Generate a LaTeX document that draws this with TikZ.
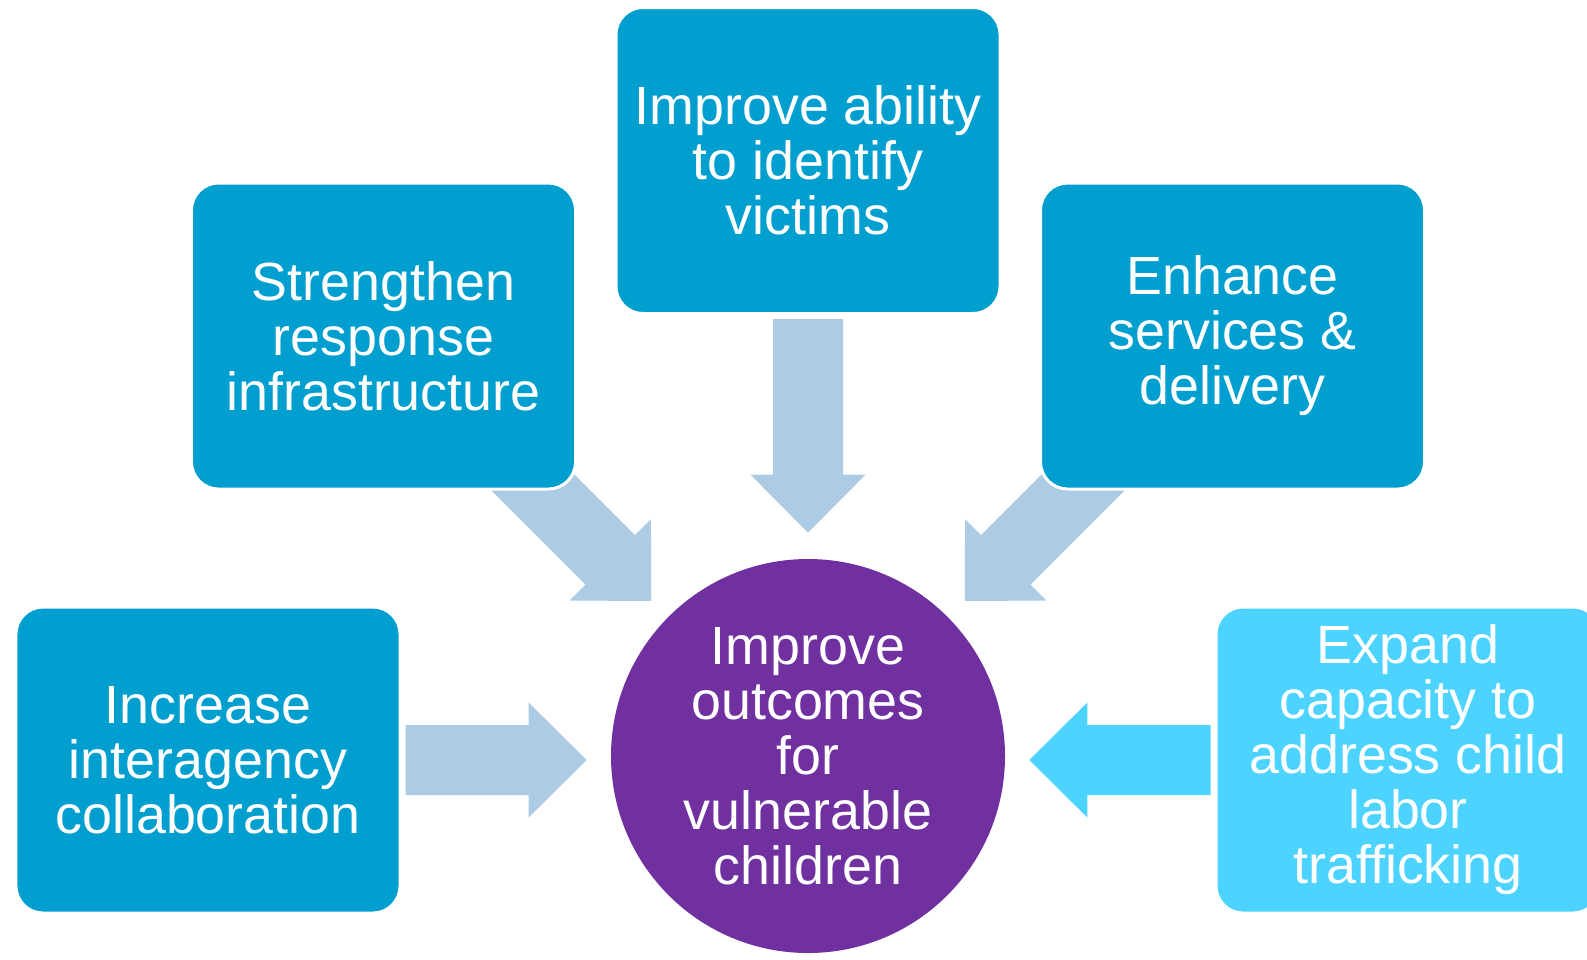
\documentclass[tikz,border=0pt]{standalone}
\usepackage{fontspec}
\setmainfont{Liberation Sans}
\usetikzlibrary{calc,backgrounds}

\definecolor{boxblue}{RGB}{0,159,207}
\definecolor{lightcyan}{RGB}{77,211,255}
\definecolor{goalpurple}{RGB}{112,48,160}
\definecolor{arrowblue}{RGB}{173,203,227}

\newcommand{\blockarrow}[3][arrowblue]{%
  \coordinate (hb) at ($(#3)!11.6mm!(#2)$);
  \fill[#1] (#3) -- ($(hb)!11.5mm!90:(#3)$) -- ($(hb)!7mm!90:(#3)$)
    -- ($(#2)!7mm!90:(#3)$) -- ($(#2)!7mm!-90:(#3)$)
    -- ($(hb)!7mm!-90:(#3)$) -- ($(hb)!11.5mm!-90:(#3)$) -- cycle;}

\begin{document}
\begin{tikzpicture}[x=0.2mm, y=0.2mm,
    every node/.style={text=white, align=center, inner sep=0pt,
      font=\fontsize{30.6}{31.3}\selectfont},
    aimbox/.style={rectangle, rounded corners=5.4mm, fill=#1, draw=white,
      line width=0.6mm, minimum width=76.8mm, minimum height=61.2mm},
    aimbox/.default=boxblue,
    goalcircle/.style={circle, fill=goalpurple, minimum size=78.8mm}]
          \useasboundingbox (0,0) rectangle (1587,-959);
          \node[aimbox] (ident) at (808,-160.5) {Improve ability\\to identify\\victims};
          \node[aimbox] (strength) at (383.5,-336) {Strengthen\\response\\infrastructure};
          \node[aimbox] (enhance) at (1232.5,-336) {Enhance\\services \&\\delivery};
          \node[aimbox] (collab) at (208,-760) {Increase\\interagency\\collaboration};
          \node[aimbox=lightcyan] (expand) at (1408,-760) {Expand\\capacity to\\address child\\labor\\trafficking};
          \node[goalcircle] (goal) at (808,-756) {Improve\\outcomes\\for\\vulnerable\\children};
          \begin{scope}[on background layer]
            \coordinate (tdown) at ([yshift=-0.8mm]ident.south);
            \coordinate (hdown) at ([yshift=5.2mm]goal.north);
            \coordinate (tleft) at ([xshift=0.8mm]collab.east);
            \coordinate (hleft) at ([xshift=-4.8mm]tleft -| goal.west);
            \coordinate (tright) at ([xshift=-0.8mm]expand.west);
            \coordinate (hright) at ([xshift=4.8mm]tright -| goal.east);
            \coordinate (hstr) at ($(goal)!44.1mm!(strength)$);
            \coordinate (tstr) at ($(hstr)+(-34mm,34mm)$);
            \coordinate (henh) at ($(goal)!44.1mm!(enhance)$);
            \coordinate (tenh) at ($(henh)+(34mm,34mm)$);
            \blockarrow{tdown}{hdown}
            \blockarrow{tleft}{hleft}
            \blockarrow[lightcyan]{tright}{hright}
            \blockarrow{tstr}{hstr}
            \blockarrow{tenh}{henh}
          \end{scope}
    \end{tikzpicture}
\end{document}
